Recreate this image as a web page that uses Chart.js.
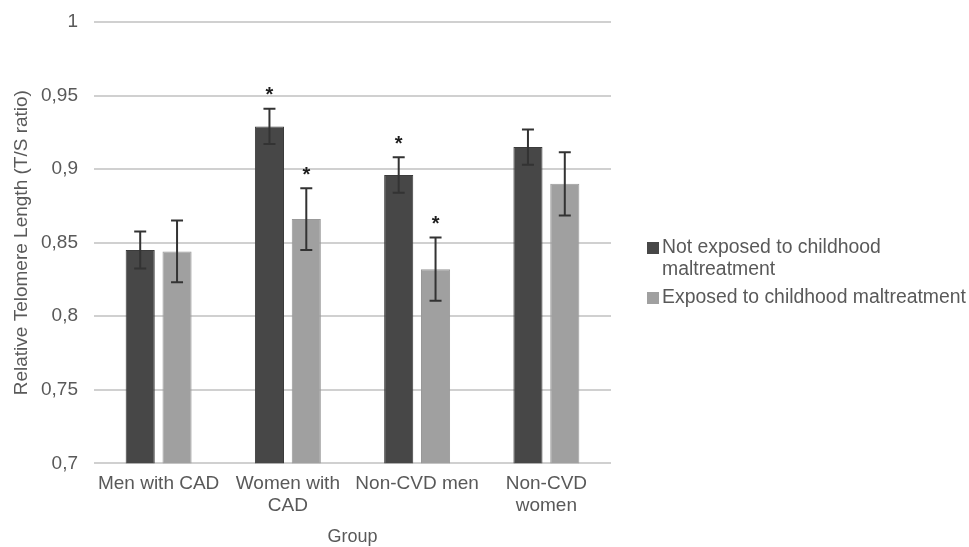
<!DOCTYPE html>
<html lang="en">
<head>
    <meta charset="UTF-8">
    <title>Relative Telomere Length by Group</title>
    <script src="https://cdn.jsdelivr.net/npm/chart.js"></script>
    <style>
        html, body {margin: 0; padding: 0; background: #fff;}
        #wrap {width: 969px; height: 547px; position: relative;}
    </style>
</head>
<body>
    <div id="wrap">
        <canvas id="telomere_canvas"></canvas>
    </div>
    <script>
        // data
        const groups = [["Men with CAD"], ["Women with", "CAD"], ["Non-CVD men"], ["Non-CVD", "women"]];
        const seriesNames = [["Not exposed to childhood", "maltreatment"], ["Exposed to childhood maltreatment"]];
        const notExposed = [0.845, 0.929, 0.896, 0.915];
        const exposed = [0.844, 0.866, 0.832, 0.890];
        const notExposedErr = [0.0125, 0.012, 0.012, 0.012];
        const exposedErr = [0.021, 0.021, 0.0215, 0.0215];
        const notExposedSig = [false, true, true, false];
        const exposedSig = [false, true, true, false];
        const yTicks = [0.7, 0.75, 0.8, 0.85, 0.9, 0.95, 1];

        const errors = [notExposedErr, exposedErr];
        const stars = [notExposedSig, exposedSig];
        const colors = ["#474747", "#a0a0a0"];
        const textGrey = "#595959";
        const fontFam = "'Liberation Sans', Arial, sans-serif";

        // error bars + significance stars
        const errorBarPlugin = {
            id: "errorBars",
            afterDatasetsDraw(chart) {
                const ctx = chart.ctx;
                const y = chart.scales.y;
                chart.data.datasets.forEach((ds, di) => {
                    const meta = chart.getDatasetMeta(di);
                    meta.data.forEach((bar, i) => {
                        const v = ds.data[i];
                        const e = errors[di][i];
                        const top = y.getPixelForValue(v + e);
                        const bot = y.getPixelForValue(v - e);
                        const x = bar.x;
                        ctx.save();
                        ctx.strokeStyle = "#333";
                        ctx.lineWidth = 2;
                        ctx.beginPath();
                        ctx.moveTo(x, top); ctx.lineTo(x, bot);
                        ctx.moveTo(x - 6, top); ctx.lineTo(x + 6, top);
                        ctx.moveTo(x - 6, bot); ctx.lineTo(x + 6, bot);
                        ctx.stroke();
                        if (stars[di][i]) {
                            ctx.fillStyle = "#1e1e1e";
                            ctx.font = "bold 20px " + fontFam;
                            ctx.textAlign = "center";
                            ctx.textBaseline = "middle";
                            ctx.fillText("*", x, top - 13);
                        }
                        ctx.restore();
                    });
                });
            }
        };

        // legend on the right, two lines for the first entry
        const sideLegend = {
            id: "sideLegend",
            afterDraw(chart) {
                const ctx = chart.ctx;
                const boxX = 647, textX = 662;
                const rows = [248, 298];
                ctx.save();
                ctx.font = "19.4px " + fontFam;
                ctx.textBaseline = "middle";
                ctx.textAlign = "left";
                seriesNames.forEach((lines, i) => {
                    ctx.fillStyle = colors[i];
                    ctx.fillRect(boxX, rows[i] - 6, 12, 12);
                    ctx.fillStyle = textGrey;
                    lines.forEach((t, k) => ctx.fillText(t, textX, rows[i] + k * 22));
                });
                ctx.restore();
            }
        };

        const fmt = (v) => String(Math.round(v * 100) / 100).replace(".", ",");

        new Chart(document.getElementById("telomere_canvas"), {
            type: "bar",
            data: {
                labels: groups,
                datasets: [{
                    label: seriesNames[0].join(" "),
                    data: notExposed,
                    backgroundColor: colors[0],
                    borderColor: "#3c3c3c",
                    borderWidth: 1
                }, {
                    label: seriesNames[1].join(" "),
                    data: exposed,
                    backgroundColor: colors[1],
                    borderColor: "#999999",
                    borderWidth: 1
                }]
            },
            options: {
                responsive: true,
                maintainAspectRatio: false,
                animation: false,
                layout: {padding: {top: 22, left: 10, right: 358, bottom: 1}},
                datasets: {bar: {categoryPercentage: 0.57, barPercentage: 0.79}},
                plugins: {
                    tooltip: {enabled: false},
                    legend: {display: false}
                },
                scales: {
                    x: {
                        grid: {display: false},
                        border: {display: false},
                        ticks: {color: textGrey, font: {family: fontFam, size: 19, lineHeight: 1.15}, maxRotation: 0, autoSkip: false, padding: 2},
                        title: {display: true, text: "Group", color: textGrey, font: {family: fontFam, size: 18, lineHeight: 1.0}, padding: {top: 9, bottom: 0}}
                    },
                    y: {
                        min: 0.7,
                        max: 1,
                        afterBuildTicks: (axis) => { axis.ticks = yTicks.map(v => ({value: v})); },
                        afterFit: (axis) => { axis.width = 84; axis.paddingTop = 0; },
                        grid: {color: "#d0d0d0", lineWidth: 2, drawTicks: false},
                        border: {display: false},
                        ticks: {color: textGrey, font: {family: fontFam, size: 19, lineHeight: 0.8}, padding: 16, callback: (v) => fmt(v)},
                        title: {display: true, text: "Relative Telomere Length (T/S ratio)", color: textGrey, font: {family: fontFam, size: 19}, padding: {top: 0, bottom: 0}}
                    }
                }
            },
            plugins: [errorBarPlugin, sideLegend]
        });
    </script>
</body>
</html>
